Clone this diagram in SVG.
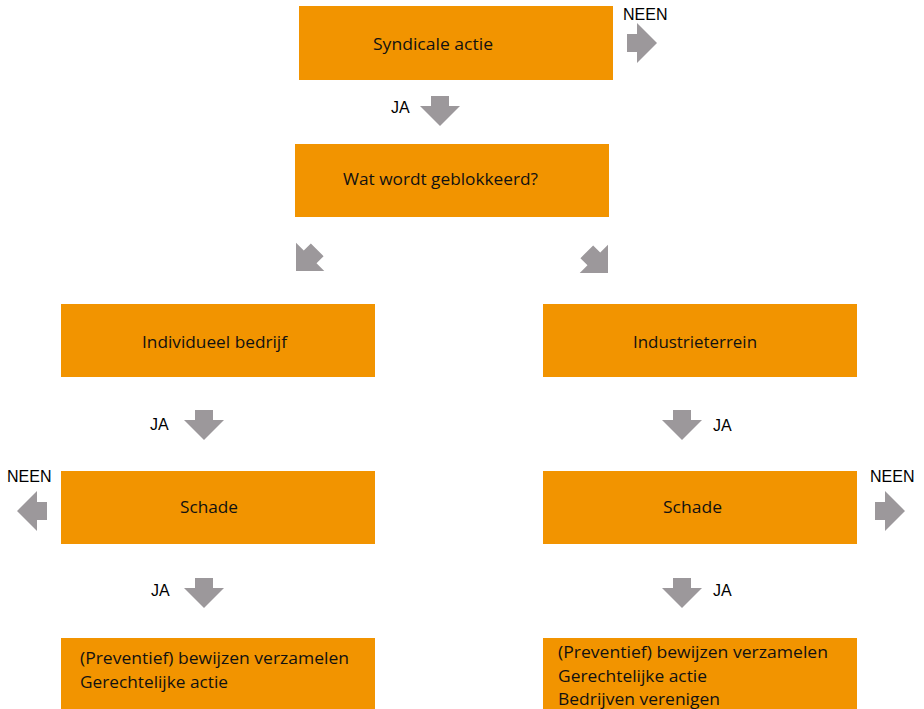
<svg xmlns="http://www.w3.org/2000/svg" width="924" height="709" viewBox="0 0 924 709">
<style>
.box{fill:#F29400}
.t{font-family:"Open Sans","Noto Sans",sans-serif;font-size:17px;fill:#111}
.l{font-family:"Liberation Sans",Arial,sans-serif;font-size:16px;fill:#000}
.arr{fill:#9C989B}
</style>
<defs>
<path id="ar" d="M-9,-30 H9 V-20 H20 L0,0 L-20,-20 H-9 Z"/>
</defs>
<rect width="924" height="709" fill="#fff"/>
<g id="n1"><rect class="box" x="299" y="6" width="314" height="74"/><text class="t" x="373" y="50" textLength="120" lengthAdjust="spacingAndGlyphs">Syndicale actie</text></g>
<g id="n2"><rect class="box" x="295" y="144" width="314" height="73"/><text class="t" x="343" y="185" textLength="195" lengthAdjust="spacingAndGlyphs">Wat wordt geblokkeerd?</text></g>
<g id="n3"><rect class="box" x="61" y="304" width="314" height="73"/><text class="t" x="142" y="348" textLength="145" lengthAdjust="spacingAndGlyphs">Individueel bedrijf</text></g>
<g id="n4"><rect class="box" x="543" y="304" width="314" height="73"/><text class="t" x="633" y="348" textLength="124" lengthAdjust="spacingAndGlyphs">Industrieterrein</text></g>
<g id="n5"><rect class="box" x="61" y="471" width="314" height="73"/><text class="t" x="180" y="513" textLength="58" lengthAdjust="spacingAndGlyphs">Schade</text></g>
<g id="n6"><rect class="box" x="543" y="471" width="314" height="73"/><text class="t" x="663" y="513" textLength="59" lengthAdjust="spacingAndGlyphs">Schade</text></g>
<g id="n7"><rect class="box" x="61" y="638" width="314" height="71"/><text class="t" x="80" y="664" textLength="269" lengthAdjust="spacingAndGlyphs">(Preventief) bewijzen verzamelen</text><text class="t" x="80" y="688" textLength="148" lengthAdjust="spacingAndGlyphs">Gerechtelijke actie</text></g>
<g id="n8"><rect class="box" x="543" y="638" width="314" height="71"/><text class="t" x="558" y="658" textLength="270" lengthAdjust="spacingAndGlyphs">(Preventief) bewijzen verzamelen</text><text class="t" x="558" y="682" textLength="149" lengthAdjust="spacingAndGlyphs">Gerechtelijke actie</text><text class="t" x="558" y="705" textLength="162" lengthAdjust="spacingAndGlyphs">Bedrijven verenigen</text></g>
<g id="connectors">
<use href="#ar" class="arr" transform="translate(657,43) rotate(-90)"/>
<text class="l" x="623" y="20">NEEN</text>
<use href="#ar" class="arr" transform="translate(440,126)"/>
<text class="l" x="391" y="113">JA</text>
<use href="#ar" class="arr" transform="translate(296,271) rotate(45)"/>
<use href="#ar" class="arr" transform="translate(608,273) rotate(-45)"/>
<use href="#ar" class="arr" transform="translate(204,440)"/>
<text class="l" x="150" y="430">JA</text>
<use href="#ar" class="arr" transform="translate(682,440)"/>
<text class="l" x="713" y="431">JA</text>
<use href="#ar" class="arr" transform="translate(17,511) rotate(90)"/>
<text class="l" x="7" y="482">NEEN</text>
<use href="#ar" class="arr" transform="translate(905,511) rotate(-90)"/>
<text class="l" x="870" y="482">NEEN</text>
<use href="#ar" class="arr" transform="translate(204,608)"/>
<text class="l" x="151" y="596">JA</text>
<use href="#ar" class="arr" transform="translate(682,608)"/>
<text class="l" x="713" y="596">JA</text>
</g>
</svg>
